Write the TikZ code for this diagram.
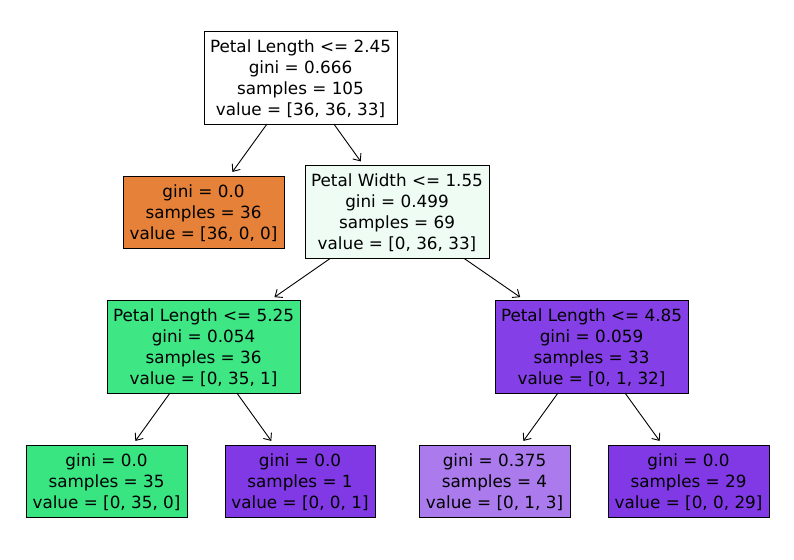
\documentclass[tikz,border=0pt]{standalone}
\usepackage{fontspec}
\setmainfont{DejaVu Sans}
\usetikzlibrary{arrows.meta}
\definecolor{cA}{HTML}{E58139}
\definecolor{cB}{HTML}{EEFCF4}
\definecolor{cC}{HTML}{3EE684}
\definecolor{cD}{HTML}{853FE6}
\definecolor{cE}{HTML}{39E581}
\definecolor{cF}{HTML}{8139E5}
\definecolor{cG}{HTML}{AB7BEE}
\tikzset{
  treebox/.style={draw=black, line width=0.9pt, outer sep=0pt, inner sep=0pt,
    align=center, font=\fontsize{16.8}{21}\selectfont, text depth=0pt},
  four/.style={treebox, minimum height=93pt},
  three/.style={treebox, minimum height=72pt},
  edge/.style={line width=0.9pt, -{Straight Barb[length=6pt,width=10pt,line width=0.9pt]}, shorten >=5pt}
}
\begin{document}
\begin{tikzpicture}[x=1pt,y=-1pt]
\useasboundingbox (0,0) rectangle (794,559);
\node[four, fill=white, minimum width=193pt] (n0) at (300.5,77.5)
  {Petal Length <= 2.45\\gini = 0.666\\samples = 105\\value = [36, 36, 33]};
\node[three, fill=cA, minimum width=161pt] (n1) at (203.5,212)
  {gini = 0.0\\samples = 36\\value = [36, 0, 0]};
\node[four, fill=cB, minimum width=184pt] (n2) at (397,212)
  {Petal Width <= 1.55\\gini = 0.499\\samples = 69\\value = [0, 36, 33]};
\node[four, fill=cC, minimum width=193pt] (n3) at (203.5,346.5)
  {Petal Length <= 5.25\\gini = 0.054\\samples = 36\\value = [0, 35, 1]};
\node[four, fill=cD, minimum width=193pt] (n4) at (591.5,346.5)
  {Petal Length <= 4.85\\gini = 0.059\\samples = 33\\value = [0, 1, 32]};
\node[three, fill=cE, minimum width=161pt] (n5) at (106.5,481)
  {gini = 0.0\\samples = 35\\value = [0, 35, 0]};
\node[three, fill=cF, minimum width=150pt] (n6) at (300,481)
  {gini = 0.0\\samples = 1\\value = [0, 0, 1]};
\node[three, fill=cG, minimum width=151pt] (n7) at (494.5,481)
  {gini = 0.375\\samples = 4\\value = [0, 1, 3]};
\node[three, fill=cF, minimum width=161pt] (n8) at (688.5,481)
  {gini = 0.0\\samples = 29\\value = [0, 0, 29]};
\draw[edge] (n0) -- (n1);
\draw[edge] (n0) -- (n2);
\draw[edge] (n2) -- (n3);
\draw[edge] (n2) -- (n4);
\draw[edge] (n3) -- (n5);
\draw[edge] (n3) -- (n6);
\draw[edge] (n4) -- (n7);
\draw[edge] (n4) -- (n8);
\end{tikzpicture}
\end{document}
